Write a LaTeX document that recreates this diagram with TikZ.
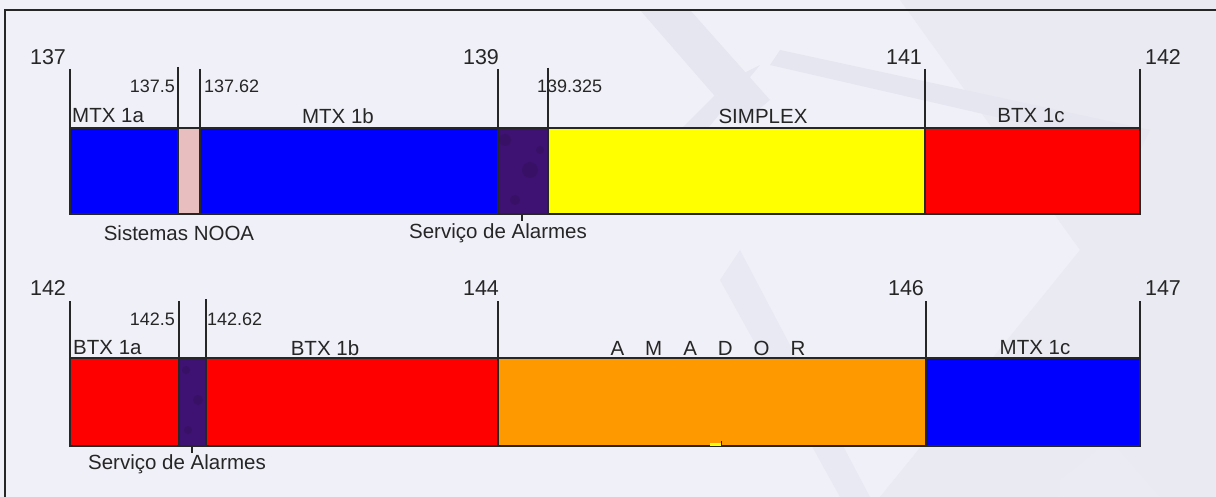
\documentclass[tikz,border=0pt]{standalone}
\usepackage{fontspec}
\setmainfont{Liberation Sans}
\definecolor{bgc}{HTML}{F0F0F8}
\definecolor{wm}{HTML}{E6E6F0}
\definecolor{ln}{HTML}{262626}
\definecolor{bblue}{HTML}{0000FF}
\definecolor{bred}{HTML}{FF0000}
\definecolor{byel}{HTML}{FFFF00}
\definecolor{borg}{HTML}{FF9900}
\definecolor{bpink}{HTML}{E8BEBE}
\definecolor{bpur}{HTML}{3E1272}
\definecolor{bpurd}{HTML}{34105F}
\begin{document}
\begin{tikzpicture}[x=1pt,y=-1pt,
  bignum/.style={font=\fontsize{21.5}{23}\selectfont, text=ln, inner sep=0pt},
  smallnum/.style={font=\fontsize{18}{20}\selectfont, text=ln, inner sep=0pt},
  seglabel/.style={font=\fontsize{20.5}{22}\selectfont, text=ln, inner sep=0pt},
  tickline/.style={draw=ln, line width=1.8pt},
  segbox/.style={draw=ln, line width=1.8pt},
  pointer/.style={draw=ln, line width=1.2pt}]
\useasboundingbox (0,0) rectangle (1216,497);
% background
\fill[bgc] (0,0) rectangle (1216,497);
\fill[wm!60!bgc] (900,0) -- (1216,0) -- (1216,497) -- (880,497) -- (1080,250) -- cycle;
\fill[wm] (640,10) -- (690,10) -- (770,100) -- (740,125) -- cycle;
\fill[wm] (780,50) -- (1150,130) -- (1140,150) -- (770,65) -- cycle;
\fill[wm] (730,80) -- (760,65) -- (690,150) -- (670,140) -- cycle;
\fill[wm!70!bgc] (720,280) -- (740,250) -- (870,497) -- (840,497) -- cycle;
\fill[wm!50!bgc] (1060,480) -- (1110,440) -- (1160,497) -- (1060,497) -- cycle;
% frame
\draw[ln, line width=1.5pt] (1216,10) -- (5,10) -- (5,497);

% ---------- row 1 ----------
\path[segbox, fill=bblue] (70,128) rectangle (178,214);
\path[segbox, fill=bpink] (178,128) rectangle (200,214);
\path[segbox, fill=bblue] (200,128) rectangle (498,214);
\path[segbox, fill=bpur] (498,128) rectangle (548,214);
\fill[bpurd, opacity=0.6] (505,140) circle (6) (530,170) circle (8) (515,200) circle (5) (540,150) circle (4);
\path[segbox, fill=byel] (548,128) rectangle (925,214);
\path[segbox, fill=bred] (925,128) rectangle (1140,214);
\draw[segbox] (498,128) rectangle (548,214);

\draw[tickline] (70,69) -- (70,214);
\draw[tickline] (178,67) -- (178,214);
\draw[tickline] (200,69) -- (200,214);
\draw[tickline] (498,69) -- (498,214);
\draw[tickline] (925,69) -- (925,214);
\draw[tickline] (1140,69) -- (1140,214);

\node[bignum] (t137) at (48,57) {137};
\node[smallnum, anchor=east] (t1375) at (175,86) {137.5};
\node[smallnum, anchor=west] (t13762) at (204,86) {137.62};
\node[bignum] (t139) at (481,57) {139};
\node[smallnum, anchor=west] (t139325) at (537,86) {139.325};
\draw[tickline] (548,68) -- (548,214);
\node[bignum] (t141) at (904,57) {141};
\node[bignum] (t142a) at (1163,57) {142};

\node[seglabel, anchor=west] (mtx1a) at (72,116) {MTX 1a};
\node[seglabel] (mtx1b) at (338,116) {MTX 1b};
\node[seglabel] (simplex) at (763,116) {SIMPLEX};
\node[seglabel] (btx1c) at (1031,116) {BTX 1c};

\node[seglabel] (nooa) at (179,233) {Sistemas NOOA};
\node[seglabel] (alarm1) at (498,233) {Serviço de Alarmes};
\coordinate (p1) at (522,214);
\draw[pointer] (p1) -- (522,221);

% ---------- row 2 ----------
\path[segbox, fill=bred] (70,358) rectangle (179,446);
\path[segbox, fill=bpur] (179,358) rectangle (206,446);
\fill[bpurd, opacity=0.6] (186,370) circle (4) (198,400) circle (5) (188,430) circle (4);
\path[segbox, fill=bred] (206,358) rectangle (498,446);
\path[segbox, fill=borg] (498,358) rectangle (926,446);
\path[segbox, fill=bblue] (926,358) rectangle (1140,446);
\draw[segbox] (179,358) rectangle (206,446);
\fill[byel] (710,443) rectangle (722,446);
\draw[ln, line width=0.8pt] (721,441) -- (721,447);

\draw[tickline] (70,301) -- (70,446);
\draw[tickline] (179,301) -- (179,446);
\draw[tickline] (206,299) -- (206,446);
\draw[tickline] (498,301) -- (498,446);
\draw[tickline] (926,301) -- (926,446);
\draw[tickline] (1140,301) -- (1140,446);

\node[bignum] (t142b) at (48,288) {142};
\node[smallnum, anchor=east] (t1425) at (175,319) {142.5};
\node[smallnum, anchor=west] (t14262) at (207,319) {142.62};
\node[bignum] (t144) at (481,288) {144};
\node[bignum] (t146) at (906,288) {146};
\node[bignum] (t147) at (1163,288) {147};

\node[seglabel, anchor=west] (btx1a) at (73,348) {BTX 1a};
\node[seglabel] (btx1b) at (325,348) {BTX 1b};
\node[seglabel] (amador) at (708,348) {A\hspace{21pt}M\hspace{21pt}A\hspace{21pt}D\hspace{21pt}O\hspace{21pt}R};
\node[seglabel] (mtx1c) at (1035,348) {MTX 1c};

\node[seglabel] (alarm2) at (177,464) {Serviço de Alarmes};
\coordinate (p2) at (192,446);
\draw[pointer] (p2) -- (192,453);
\end{tikzpicture}
\end{document}
